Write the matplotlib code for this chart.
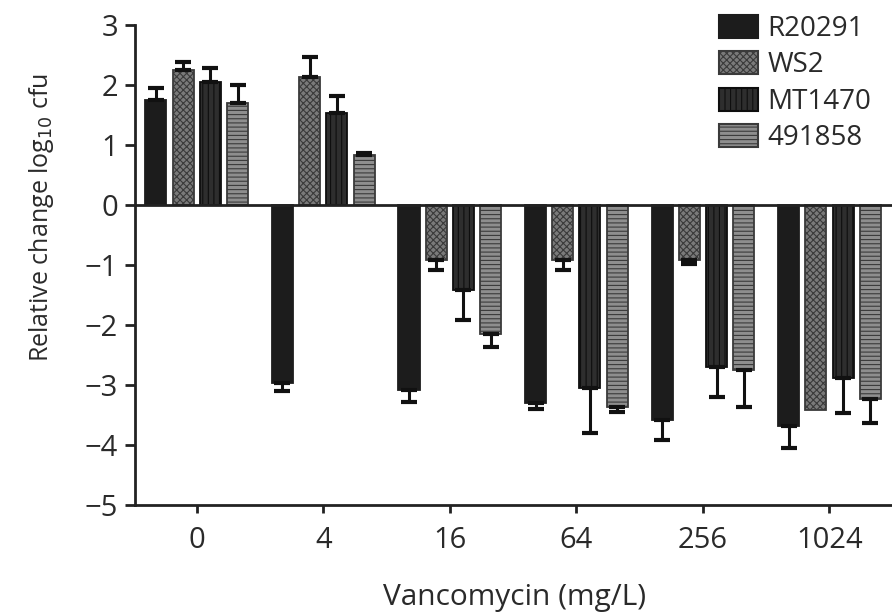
import numpy as np
import matplotlib.pyplot as plt
from matplotlib.patches import Patch

plt.rcParams['font.family'] = ['Open Sans', 'DejaVu Sans']
plt.rcParams['hatch.linewidth'] = 0.8

doses = ['0', '4', '16', '64', '256', '1024']
strains = ['R20291', 'WS2', 'MT1470', '491858']

# mean relative change (log10 cfu) per strain, per dose
r20291 = [1.75, -2.97, -3.08, -3.30, -3.58, -3.68]
ws2 = [2.25, 2.13, -0.92, -0.92, -0.92, -3.42]
mt1470 = [2.05, 1.53, -1.42, -3.05, -2.70, -2.88]
s491858 = [1.70, 0.83, -2.15, -3.37, -2.75, -3.23]

# error bar lengths (one-sided, away from zero)
r20291_err = [0.20, 0.13, 0.20, 0.10, 0.34, 0.37]
ws2_err = [0.13, 0.34, 0.16, 0.16, 0.06, 0.0]
mt1470_err = [0.23, 0.29, 0.50, 0.75, 0.50, 0.59]
s491858_err = [0.30, 0.04, 0.22, 0.08, 0.62, 0.40]

values = [r20291, ws2, mt1470, s491858]
errors = [r20291_err, ws2_err, mt1470_err, s491858_err]

###style per strain###
faces = ['#1c1c1c', '#7a7a7a', '#2e2e2e', '#8e8e8e']
hatches = [None, 'xxxxx', '|||', '----']
hatch_cols = ['#1c1c1c', '#3a3a3a', '#0e0e0e', '#3a3a3a']
txt = '#2a2a2a'

fig = plt.figure(figsize=(8.92, 6.13), dpi=100)
ax = fig.add_axes([0.151, 0.176, 0.849, 0.783])

x = np.arange(len(doses))
width = 0.166
pitch = 0.215
offsets = (np.arange(4) - 1.5) * pitch

for i in range(4):
    vals = np.array(values[i])
    errs = np.array(errors[i])
    pos = x + offsets[i]
    ax.bar(pos, vals, width, color=faces[i], edgecolor=hatch_cols[i],
           hatch=hatches[i], linewidth=1.3, zorder=2)
    lower = np.where(vals < 0, errs, 0)
    upper = np.where(vals >= 0, errs, 0)
    keep = errs > 0
    ax.errorbar(pos[keep], vals[keep], yerr=[lower[keep], upper[keep]], fmt='none',
                ecolor='#111111', elinewidth=2.2, capsize=5.5, capthick=3, zorder=3)

ax.axhline(0, color='#222222', lw=2, zorder=4)

ax.set_xlim(-0.49, 5.494)
ax.set_ylim(-5, 3)
ax.set_yticks(range(-5, 4))
ax.set_xticks(x)
ax.set_xticklabels(doses)
ax.spines['top'].set_visible(False)
ax.spines['right'].set_visible(False)
for s in ['left', 'bottom']:
    ax.spines[s].set_linewidth(2)
    ax.spines[s].set_color('#222222')
ax.tick_params(axis='both', width=2, labelsize=21, colors='#222222', labelcolor=txt)
ax.tick_params(axis='y', length=7, pad=5)
ax.tick_params(axis='x', length=6, pad=9)

ax.set_ylabel('Relative change log$_{10}$ cfu', fontsize=18, color=txt)
ax.yaxis.set_label_coords(-0.104, 0.6)
ax.set_xlabel('Vancomycin (mg/L)', fontsize=21.5, color=txt)
ax.xaxis.set_label_coords(0.501, -0.163)

handles = [Patch(facecolor=faces[i], edgecolor=hatch_cols[i], hatch=hatches[i],
                 linewidth=1.5, label=strains[i]) for i in range(4)]
fig.legend(handles=handles, loc='upper left', bbox_to_anchor=(0.781, 1.012),
           frameon=False, fontsize=20, handlelength=1.4, handleheight=0.9,
           labelspacing=0.3, handletextpad=0.35, labelcolor=txt, borderpad=0.3)

fig.savefig('out.png', dpi=100)
